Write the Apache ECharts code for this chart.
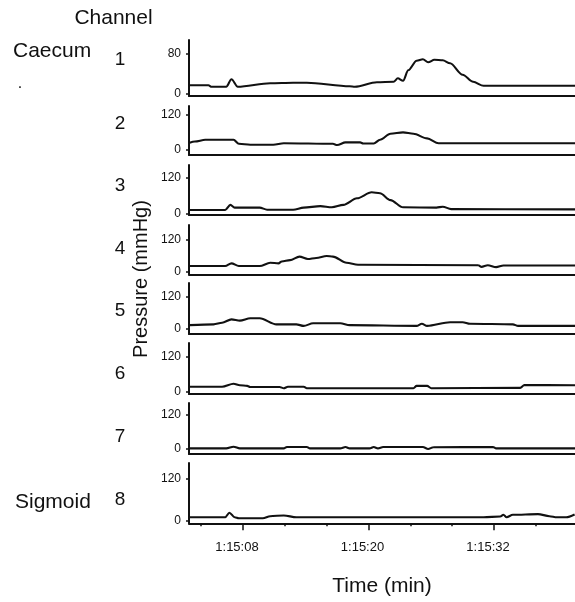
<!DOCTYPE html>
<html>
<head>
<meta charset="utf-8">
<script src="https://cdn.jsdelivr.net/npm/echarts@6/dist/echarts.min.js"></script>
<style>
html,body{margin:0;padding:0;background:#fff;}
#chart{width:575px;height:602px;}
</style>
</head>
<body>
<div id="chart"></div>
<script>
// ---- data (time in seconds after 1:15:00, pressure in mmHg) ----
var channelNames = ['1','2','3','4','5','6','7','8'];
var tickTops = [80,120,120,120,120,120,120,120];
var timeTicksMajor = [8,20,32];
var timeTicksMinor = [4,12,16,24,28,36];

var ch1T = [2.9, 4.7, 5.0, 6.4, 6.9, 7.5, 10.6, 12.8, 14.1, 18.2, 18.7, 20.8, 22.4, 22.8, 23.3, 23.8, 24.6, 25.2, 25.7, 26.3, 27.1, 27.8, 29.0, 30.0, 31.0, 39.8];
var ch1V = [16, 16, 13, 13, 28, 13, 20, 21, 21, 14, 13, 22, 23, 30, 25, 46, 65, 68, 62, 67, 66, 60, 37, 23, 15, 15];

var ch2T = [2.9, 3.4, 4.4, 7.1, 7.6, 8.7, 10.9, 11.9, 16.6, 17.0, 17.8, 19.2, 19.5, 20.5, 21.1, 22.1, 23.3, 24.3, 25.6, 26.7, 39.8];
var ch2V = [23, 27, 33, 33, 19, 16, 16, 21, 19, 15, 24, 24, 20, 20, 33, 54, 59, 54, 38, 21, 21];

var ch3T = [2.9, 6.3, 6.8, 7.2, 9.6, 10.3, 12.8, 13.8, 15.4, 16.5, 17.6, 18.9, 20.3, 21.1, 22.1, 23.3, 26.5, 27.1, 27.9, 39.8];
var ch3V = [11, 11, 28, 19, 19, 12, 12, 19, 24, 20, 28, 50, 70, 67, 44, 20, 19, 22, 14, 13];

var ch4T = [2.9, 6.3, 6.9, 7.6, 9.6, 10.6, 11.4, 11.7, 12.5, 13.4, 14.2, 15.0, 16.0, 16.6, 17.9, 19.0, 30.5, 30.8, 31.4, 32.2, 32.9, 39.8];
var ch4V = [21, 21, 31, 21, 21, 33, 31, 38, 43, 56, 47, 51, 58, 56, 33, 26, 24, 18, 24, 17, 23, 23];

var ch5T = [2.9, 5.2, 6.0, 6.9, 7.7, 8.7, 9.6, 11.2, 13.1, 13.8, 14.7, 17.3, 18.2, 24.6, 25.1, 25.6, 27.8, 29.0, 29.7, 33.8, 34.3, 39.8];
var ch5V = [12, 15, 21, 34, 29, 38, 38, 15, 15, 9, 19, 19, 12, 9, 17, 9, 23, 23, 17, 15, 9, 9];

var ch6T = [2.9, 6.0, 7.1, 7.7, 8.4, 8.7, 11.5, 11.9, 12.3, 13.8, 14.1, 24.3, 24.6, 25.6, 26.0, 34.5, 34.9, 39.8];
var ch6V = [17, 17, 27, 22, 20, 16, 16, 12, 17, 17, 12, 12, 20, 20, 12, 13, 23, 22];

var ch7T = [2.9, 6.4, 7.1, 7.7, 11.9, 12.2, 14.1, 14.4, 17.3, 17.8, 18.2, 20.1, 20.5, 20.9, 21.4, 25.2, 25.7, 26.2, 31.9, 32.2, 39.8];
var ch7V = [2, 2, 8, 2, 2, 7, 7, 2, 2, 7, 2, 2, 7, 2, 7, 7, 0, 6, 7, 2, 2];

var ch8T = [2.8, 6.3, 6.7, 7.2, 7.6, 9.9, 10.6, 11.9, 13.1, 31.0, 32.6, 32.9, 33.2, 33.8, 36.2, 37.3, 38.0, 38.9, 39.7];
var ch8V = [10, 10, 23, 10, 7, 7, 13, 15, 10, 10, 12, 17, 10, 17, 19, 13, 10, 10, 18];

var chT = [ch1T, ch2T, ch3T, ch4T, ch5T, ch6T, ch7T, ch8T];
var chV = [ch1V, ch2V, ch3V, ch4V, ch5V, ch6V, ch7V, ch8V];

// ---- layout (pixels / axis extents) ----
var panelTop    = [40, 106, 165, 225, 283, 343, 403, 463];
var panelBottom = [96, 155, 215, 274.3, 334, 394, 454, 523.3];
var yMin = [-5.4, -20, -5.7, -9.6, -21.7, -7.9, -17.7, -7.5];
var yMax = [106.6, 151, 161, 173, 172, 167, 162.5, 166];
var numberY = [60, 124, 186, 249, 311, 374, 437, 500];
var X_MIN = 2.84, X_MAX = 39.74;

var FONT = 'Liberation Sans, Arial, Helvetica, sans-serif';
var INK = '#111111';

function pad2(v){ v = Math.round(v); return (v < 10 ? '0' : '') + v; }

var grids = [], xAxes = [], yAxes = [], series = [], graphics = [];
for (var i = 0; i < 8; i++) {
  grids.push({left: 189, right: 0, top: panelTop[i], height: panelBottom[i] - panelTop[i], outerBoundsMode: 'none', containLabel: false});
  xAxes.push({
    type: 'value', gridIndex: i, position: 'bottom', min: X_MIN, max: X_MAX,
    axisLine: {show: true, onZero: false, lineStyle: {color: INK, width: 2}},
    axisTick: i === 7 ? {show: true, length: 3, customValues: timeTicksMinor, lineStyle: {color: INK, width: 1.5}} : {show: false},
    axisLabel: {show: false},
    splitLine: {show: false}
  });
  yAxes.push({
    type: 'value', gridIndex: i, position: 'left', min: yMin[i], max: yMax[i],
    axisLine: {show: true, onZero: false, lineStyle: {color: INK, width: 2}},
    axisTick: {show: true, length: 3, customValues: [0, tickTops[i]], lineStyle: {color: INK, width: 1.5}},
    axisLabel: {show: true, customValues: [0, tickTops[i]], fontSize: 12, color: INK, fontFamily: FONT, margin: 8},
    splitLine: {show: false}
  });
  var d = [];
  for (var k = 0; k < chT[i].length; k++) d.push([chT[i][k], chV[i][k]]);
  series.push({
    type: 'line', xAxisIndex: i, yAxisIndex: i, data: d,
    showSymbol: false, smooth: 0.3, smoothMonotone: 'x',
    lineStyle: {color: INK, width: 2.1}
  });
  graphics.push({type: 'text', x: 120, y: numberY[i],
    style: {text: channelNames[i], font: '19px ' + FONT, fill: INK, align: 'center', verticalAlign: 'middle'}});
}
// major time ticks + labels on bottom panel
xAxes.push({
  type: 'value', gridIndex: 7, position: 'bottom', offset: 0, min: X_MIN, max: X_MAX,
  axisLine: {show: false, onZero: false},
  axisTick: {show: true, length: 7, customValues: timeTicksMajor, lineStyle: {color: INK, width: 1.5}},
  axisLabel: {show: true, customValues: timeTicksMajor, margin: 18, fontSize: 13, color: INK, fontFamily: FONT,
    padding: [0, 12, 0, 0],
    formatter: function (v) { return '1:15:' + pad2(v); }},
  splitLine: {show: false}
});

graphics.push(
  {type: 'text', x: 113.5, y: 18, style: {text: 'Channel', font: '21px ' + FONT, fill: INK, align: 'center', verticalAlign: 'middle'}},
  {type: 'text', x: 13, y: 51, style: {text: 'Caecum', font: '21px ' + FONT, fill: INK, align: 'left', verticalAlign: 'middle'}},
  {type: 'text', x: 20, y: 84, style: {text: '.', font: '16px ' + FONT, fill: INK, align: 'center', verticalAlign: 'middle'}},
  {type: 'text', x: 15, y: 502, style: {text: 'Sigmoid', font: '21px ' + FONT, fill: INK, align: 'left', verticalAlign: 'middle'}},
  {type: 'text', x: 141.5, y: 279, rotation: Math.PI / 2, style: {text: 'Pressure (mmHg)', font: '20px ' + FONT, fill: INK, align: 'center', verticalAlign: 'middle'}},
  {type: 'text', x: 382, y: 586, style: {text: 'Time (min)', font: '21px ' + FONT, fill: INK, align: 'center', verticalAlign: 'middle'}}
);

var chart = echarts.init(document.getElementById('chart'), null, {renderer: 'canvas'});
chart.setOption({
  animation: false,
  backgroundColor: '#fff',
  grid: grids,
  xAxis: xAxes,
  yAxis: yAxes,
  series: series,
  graphic: graphics
});
</script>
</body>
</html>
